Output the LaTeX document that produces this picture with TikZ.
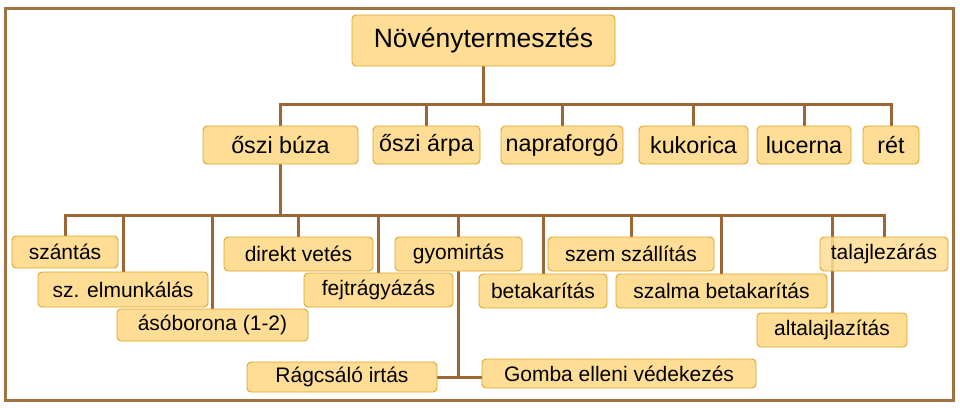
\documentclass[tikz,border=0pt]{standalone}
\usepackage{fontspec}
\setmainfont{Liberation Sans}
\usetikzlibrary{backgrounds}

\definecolor{boxfill}{RGB}{255,221,148}
\definecolor{boxline}{RGB}{218,165,40}
\definecolor{linebrown}{RGB}{155,103,52}
\definecolor{framebrown}{RGB}{160,114,66}

\tikzset{
  box/.style={draw=boxline, fill=boxfill, rounded corners=4pt, line width=0.9pt, inner sep=0pt},
  rootbox/.style={box, minimum height=51, font=\fontsize{26.5}{31}\selectfont},
  cropbox/.style={box, minimum height=38, font=\fontsize{23.3}{28}\selectfont},
  workbox/.style={box, minimum height=34, font=\fontsize{21}{25}\selectfont},
  conn/.style={draw=linebrown, line width=3pt, line cap=rect},
}

\begin{document}
\begin{tikzpicture}[x=1pt, y=-1pt]
  \useasboundingbox (0,0) rectangle (960,407);
  \draw[framebrown, line width=3pt] (5,8) rectangle (953,400);

  \node[rootbox, minimum width=263] (root) at (483.5,40.5) {Növénytermesztés};

  % növények
  \node[cropbox, minimum width=155] (buza)  at (280.5,145) {őszi búza};
  \node[cropbox, minimum width=107] (arpa)  at (426.5,145) {őszi árpa};
  \node[cropbox, minimum width=122] (napra) at (562,145)   {napraforgó};
  \node[cropbox, minimum width=109] (kuk)   at (693.5,145) {kukorica};
  \node[cropbox, minimum width=94]  (luc)   at (804,145)   {lucerna};
  \node[cropbox, minimum width=56]  (ret)   at (891,145)   {rét};

  % őszi búza munkái
  \node[workbox, minimum width=106, minimum height=32] (szantas) at (65,252)    {szántás};
  \node[workbox, minimum width=170, minimum height=35] (szelm)   at (123,289.5) {sz. elmunkálás};
  \node[workbox, minimum width=191, minimum height=32] (aso)     at (212.5,325) {ásóborona (1-2)};
  \node[workbox, minimum width=149] (direkt) at (298.5,254) {direkt vetés};
  \node[workbox, minimum width=149] (fejtr)  at (378.5,290) {fejtrágyázás};
  \node[workbox, minimum width=127] (gyom)   at (458.5,254) {gyomirtás};
  \node[workbox, minimum width=190, minimum height=30] (rag)   at (342,377)   {Rágcsáló irtás};
  \node[workbox, minimum width=274, minimum height=29] (gomba) at (619,373.5) {Gomba elleni védekezés};
  \node[workbox, minimum width=128] (betak)  at (543,291)   {betakarítás};
  \node[workbox, minimum width=166] (szem)   at (631,254)   {szem szállítás};
  \node[workbox, minimum width=211] (szalma) at (721.5,291) {szalma betakarítás};
  \node[workbox, minimum width=128, fill opacity=0.85, text opacity=1] (talaj) at (884,254) {talajlezárás};
  \node[workbox, minimum width=150] (altal)  at (832,330)   {altalajlazítás};

  \coordinate (bar1) at (483.5,104);
  \coordinate (bar2) at (280.5,215);

  \begin{scope}[on background layer]
    \draw[conn] (root.south) -- (bar1);
    \draw[conn] (bar1 -| buza) -- (bar1 -| ret);
    \foreach \n in {buza,arpa,napra,kuk,luc,ret}
      \draw[conn] (bar1 -| \n) -- (\n.north);
    \draw[conn] (buza.south) -- (bar2);
    \draw[conn] (bar2 -| szantas) -- (bar2 -| talaj);
    \foreach \n in {szantas,szelm,aso,direkt,fejtr,betak,szem,szalma,altal,talaj}
      \draw[conn] (bar2 -| \n) -- (\n.north);
    \draw[conn] (bar2 -| gyom) -- (gyom |- rag);
    \draw[conn] (rag.east) -- (gomba.west |- rag);
  \end{scope}
\end{tikzpicture}
\end{document}
